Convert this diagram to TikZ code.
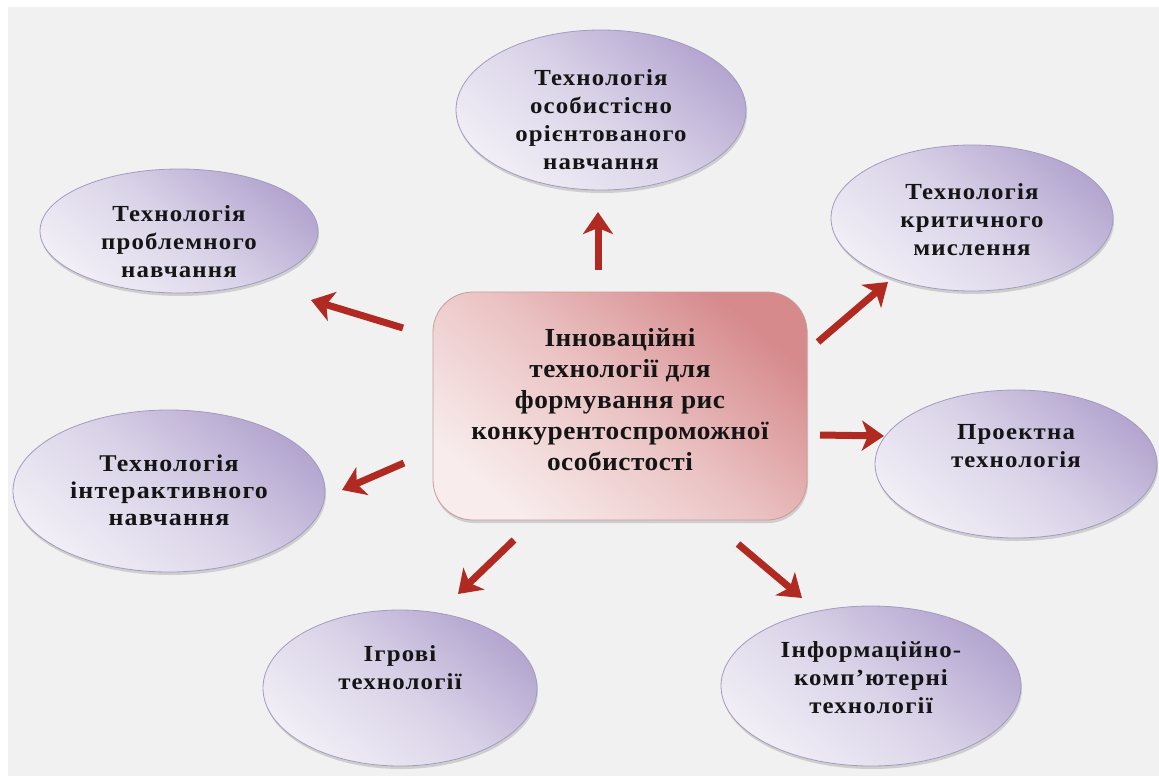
\documentclass[tikz,border=0pt]{standalone}
\usepackage{fontspec}
\usetikzlibrary{shapes.geometric,arrows.meta,shadows}
\newfontfamily\cfont[FakeStretch=1.05,LetterSpace=2]{Liberation Serif}
\newfontfamily\efont[FakeStretch=1.08,LetterSpace=5]{Liberation Serif}
\definecolor{bggray}{HTML}{F1F1F1}
\definecolor{pdark}{HTML}{B4A6D0}
\definecolor{pmid}{HTML}{DAD3E8}
\definecolor{plight}{HTML}{F1EEF6}
\definecolor{pborder}{HTML}{A39BBE}
\definecolor{rdark}{HTML}{D68A8C}
\definecolor{rmid}{HTML}{EBC3C4}
\definecolor{rlight}{HTML}{F8ECEC}
\definecolor{rborder}{HTML}{CC9A9A}
\definecolor{arrred}{HTML}{B02A22}
\definecolor{txt}{HTML}{151515}
\tikzset{
  ell/.style={ellipse, draw=pborder, line width=0.8pt, inner sep=0pt,
    top color=pdark, bottom color=plight, middle color=pmid, shading angle=-40,
    drop shadow={shadow xshift=1pt, shadow yshift=-3pt, opacity=0.25, fill=black!60}},
  etext/.style={text=txt, align=center, font=\efont\bfseries\fontsize{23}{28}\selectfont, inner sep=0pt},
  cbox/.style={rectangle, rounded corners=40pt, draw=rborder, line width=0.8pt,
    top color=rdark, bottom color=rlight, middle color=rmid, shading angle=-40,
    drop shadow={shadow xshift=1pt, shadow yshift=-3pt, opacity=0.25, fill=black!60},
    minimum width=374pt, minimum height=228pt},
  ctext/.style={text=txt, align=center, font=\cfont\bfseries\fontsize{26}{31}\selectfont, inner sep=0pt},
  arr/.style={draw=arrred, line width=7pt, -{Stealth[length=22pt,width=30pt,inset=6pt]}}
}
\begin{document}
\begin{tikzpicture}[x=1pt,y=-1pt]
\path[use as bounding box, fill=white] (0,0) rectangle (1159,776);
\fill[bggray] (8,7) rectangle (1159,776);

% center box
\node[cbox] (c) at (620,406) {};
\node[ctext] (ct) at (620,400) {Інноваційні\\технології для\\формування рис\\конкурентоспроможної\\особистості};

% ellipses
\node[ell, minimum width=290pt, minimum height=160pt] (e1) at (601,110) {};
\node[etext] (t1) at (601,120) {Технологія\\особистісно\\орієнтованого\\навчання};

\node[ell, minimum width=278pt, minimum height=124pt] (e2) at (179,231) {};
\node[etext] (t2) at (179,242) {Технологія\\проблемного\\навчання};

\node[ell, minimum width=282pt, minimum height=146pt] (e3) at (972,218) {};
\node[etext] (t3) at (972,220) {Технологія\\критичного\\мислення};

\node[ell, minimum width=282pt, minimum height=148pt] (e4) at (1016,464) {};
\node[etext] (t4) at (1016,446) {Проектна\\технологія};

\node[ell, minimum width=312pt, minimum height=162pt] (e5) at (169,491) {};
\node[etext, font=\efont\bfseries\fontsize{24}{27}\selectfont] (t5) at (169,490) {Технологія\\інтерактивного\\навчання};

\node[ell, minimum width=274pt, minimum height=156pt] (e6) at (400,688) {};
\node[etext] (t6) at (400,668) {Ігрові\\технології};

\node[ell, minimum width=300pt, minimum height=160pt] (e7) at (871,686) {};
\node[etext] (t7) at (871,678) {Інформаційно-\\комп’ютерні\\технології};

% arrow end points
\coordinate (a1s) at (598,270); \coordinate (a1e) at (598,212);
\coordinate (a2s) at (403,328); \coordinate (a2e) at (311,300);
\coordinate (a3s) at (818,342); \coordinate (a3e) at (888,282);
\coordinate (a4s) at (820,435); \coordinate (a4e) at (884,436);
\coordinate (a5s) at (404,463); \coordinate (a5e) at (342,490);
\coordinate (a6s) at (514,540); \coordinate (a6e) at (458,594);
\coordinate (a7s) at (738,544); \coordinate (a7e) at (802,598);

\draw[arr] (a1s) -- (a1e);
\draw[arr] (a2s) -- (a2e);
\draw[arr] (a3s) -- (a3e);
\draw[arr] (a4s) -- (a4e);
\draw[arr] (a5s) -- (a5e);
\draw[arr] (a6s) -- (a6e);
\draw[arr] (a7s) -- (a7e);
\end{tikzpicture}
\end{document}
